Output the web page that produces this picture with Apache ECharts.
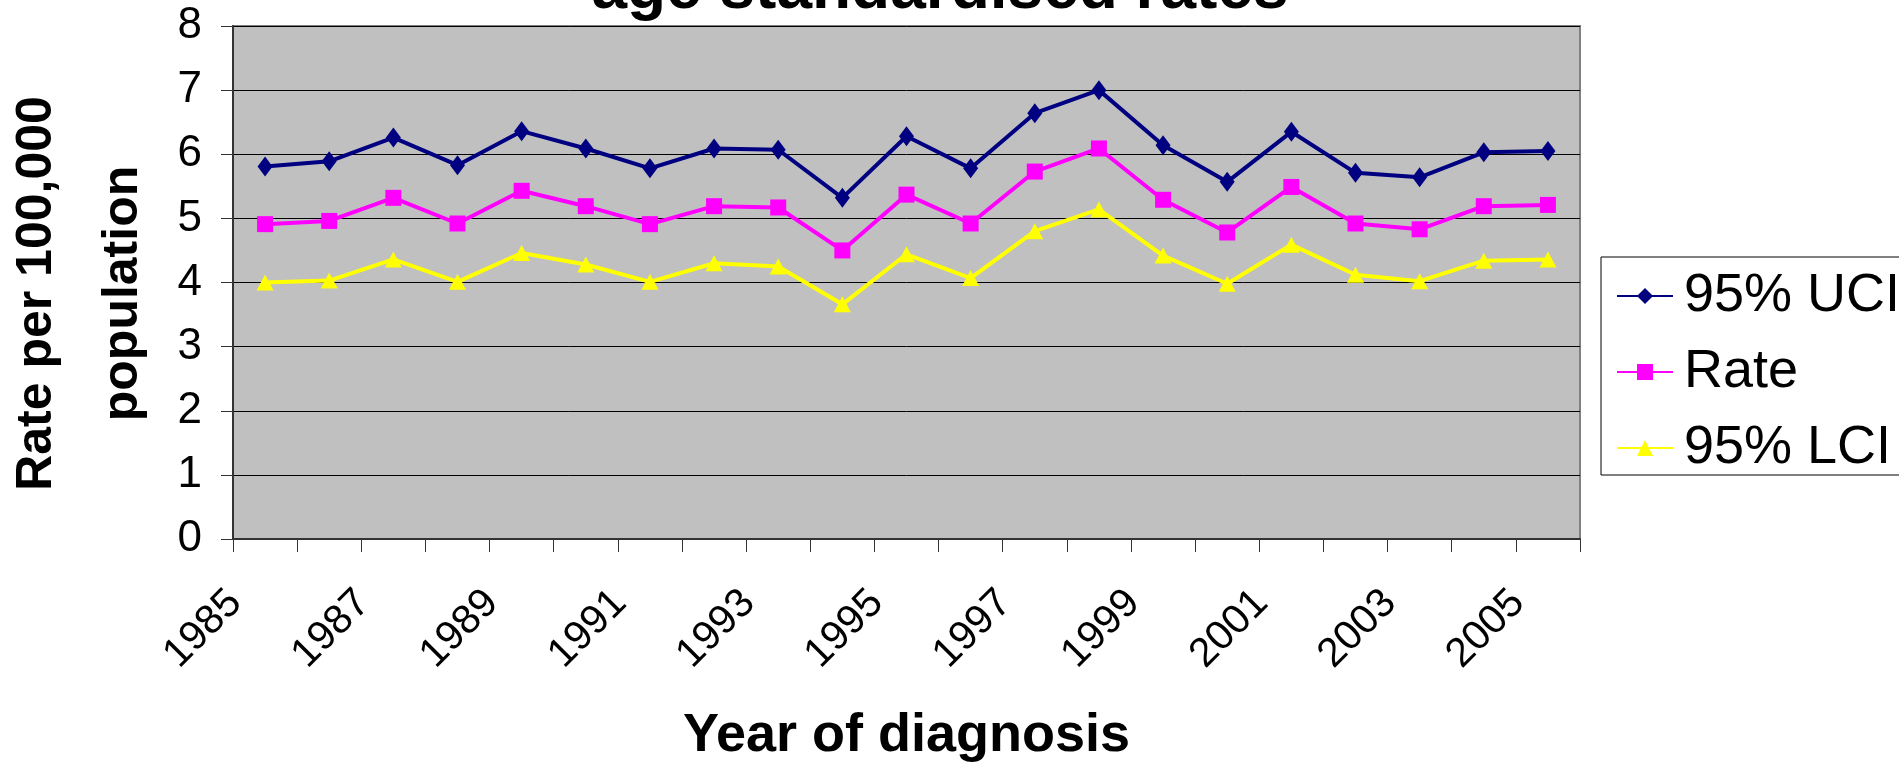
<!DOCTYPE html>
<html>
<head>
<meta charset="utf-8">
<script src="https://cdn.jsdelivr.net/npm/echarts@6/dist/echarts.min.js"></script>
<style>
  html, body { margin: 0; padding: 0; background: #fff; }
  #chart { width: 1899px; height: 765px; }
</style>
</head>
<body>
<div id="chart"></div>
<script>
// years on the x axis
const years = ['1985', '1986', '1987', '1988', '1989', '1990', '1991', '1992', '1993', '1994', '1995',
  '1996', '1997', '1998', '1999', '2000', '2001', '2002', '2003', '2004', '2005'];
// rates per 100,000
const uci = [5.81, 5.89, 6.26, 5.83, 6.36, 6.09, 5.78, 6.09, 6.07, 5.32, 6.28,
  5.78, 6.64, 7.00, 6.14, 5.57, 6.35, 5.71, 5.64, 6.03, 6.05];
const rate = [4.91, 4.96, 5.32, 4.92, 5.43, 5.19, 4.91, 5.19, 5.17, 4.50, 5.37,
  4.92, 5.73, 6.09, 5.29, 4.78, 5.49, 4.92, 4.83, 5.19, 5.21];
const lci = [4.00, 4.03, 4.36, 4.01, 4.46, 4.28, 4.01, 4.30, 4.25, 3.66, 4.44,
  4.07, 4.80, 5.14, 4.42, 3.98, 4.59, 4.12, 4.02, 4.34, 4.36];
const yMin = 0;
const yMax = 8;
const yStep = 1;

const font = 'Arial, "Liberation Sans", sans-serif';

let myChart = echarts.init(document.getElementById('chart'), null, { renderer: 'canvas' });

let option = {
  backgroundColor: '#fff',
  animation: false,
  textStyle: { fontFamily: font, color: '#000' },
  title: {
    text: 'age standardised rates',
    left: 935,
    textAlign: 'center',
    top: -47,
    textStyle: { fontSize: 64, fontWeight: 'bold', color: '#000', fontFamily: font }
  },
  legend: {
    orient: 'vertical',
    left: 1601,
    top: 257,
    padding: [12, 20, 0, 15],
    itemGap: 22,
    itemWidth: 56,
    itemHeight: 20,
    borderColor: '#000',
    borderWidth: 1,
    backgroundColor: '#fff',
    textStyle: { fontSize: 54, lineHeight: 54, color: '#000', fontFamily: font, padding: [0, 0, 0, 6] },
    data: ['95% UCI', 'Rate', '95% LCI']
  },
  grid: {
    left: 233,
    right: 319,
    top: 26,
    bottom: 226,
    outerBoundsMode: 'none',
    show: true,
    backgroundColor: '#C0C0C0',
    borderColor: '#808080',
    borderWidth: 2
  },
  xAxis: {
    type: 'category',
    data: years,
    boundaryGap: true,
    name: 'Year of diagnosis',
    nameLocation: 'middle',
    nameGap: 170,
    nameTextStyle: { fontSize: 54, fontWeight: 'bold', color: '#000', fontFamily: font },
    axisLine: { lineStyle: { color: '#333', width: 2 } },
    axisTick: { show: true, interval: 0, length: 13, lineStyle: { color: '#333', width: 1 } },
    axisLabel: { interval: 1, rotate: 45, fontSize: 41, color: '#000', margin: 28, padding: [0, 42, 0, 0], fontFamily: font },
    splitLine: { show: false }
  },
  yAxis: {
    type: 'value',
    min: yMin,
    max: yMax,
    interval: yStep,
    name: 'Rate per 100,000\npopulation',
    nameLocation: 'middle',
    nameGap: 61,
    nameTextStyle: { fontSize: 50, fontWeight: 'bold', color: '#000', lineHeight: 86, padding: [0, 22, 0, 0], fontFamily: font },
    axisLine: { show: true, lineStyle: { color: '#333', width: 2 } },
    axisTick: { show: true, length: 12, lineStyle: { color: '#333', width: 1 } },
    axisLabel: { fontSize: 44, color: '#000', margin: 31, fontFamily: font },
    splitLine: { show: true, lineStyle: { color: '#000', width: 1 } }
  },
  series: [
    {
      name: '95% UCI',
      type: 'line',
      data: uci,
      symbol: 'diamond',
      symbolSize: [15, 20],
      lineStyle: { color: '#000080', width: 4 },
      itemStyle: { color: '#000080' }
    },
    {
      name: 'Rate',
      type: 'line',
      data: rate,
      symbol: 'rect',
      symbolSize: 16,
      lineStyle: { color: '#FF00FF', width: 4 },
      itemStyle: { color: '#FF00FF' }
    },
    {
      name: '95% LCI',
      type: 'line',
      data: lci,
      symbol: 'triangle',
      symbolSize: [17, 16],
      lineStyle: { color: '#FFFF00', width: 4 },
      itemStyle: { color: '#FFFF00' }
    }
  ]
};

myChart.setOption(option);
</script>
</body>
</html>
